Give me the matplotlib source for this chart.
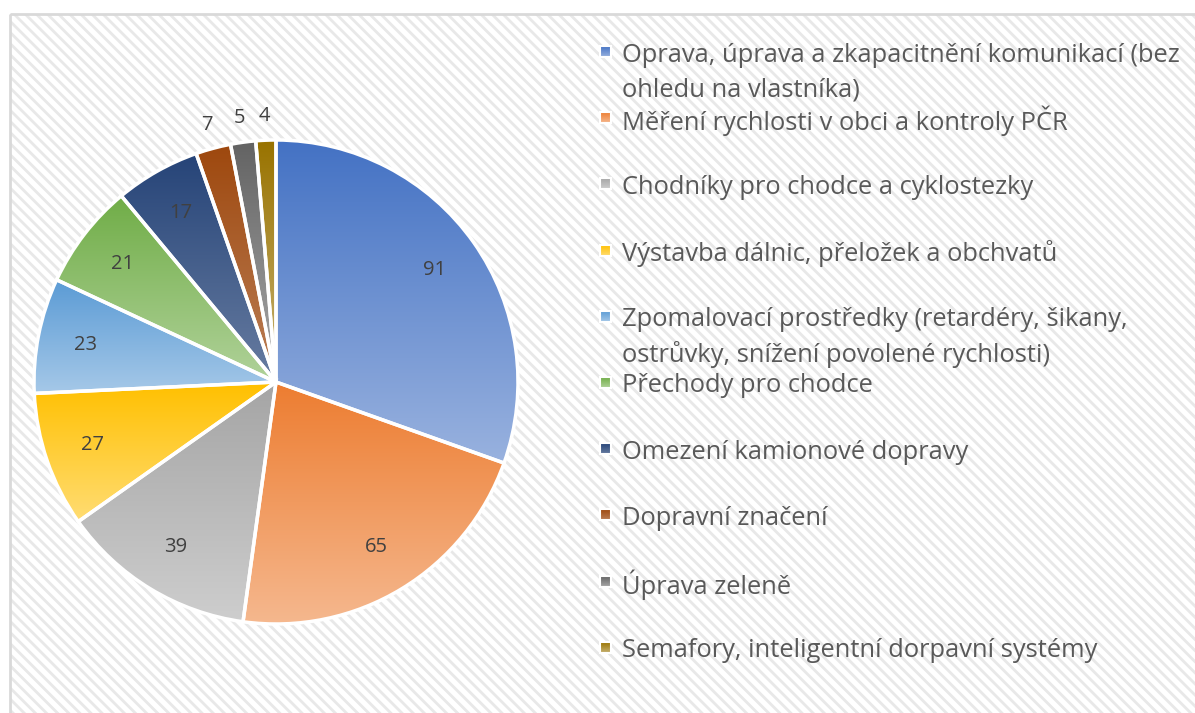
import numpy as np
import matplotlib
matplotlib.use('Agg')
from matplotlib import pyplot as plt
from matplotlib.patches import Rectangle
from matplotlib.colors import to_rgb

plt.rcParams['font.family'] = ['Open Sans', 'DejaVu Sans']
plt.rcParams['hatch.linewidth'] = 2.0

categories = [
    'Oprava, úprava a zkapacitnění komunikací (bez\nohledu na vlastníka)',
    'Měření rychlosti v obci a kontroly PČR',
    'Chodníky pro chodce a cyklostezky',
    'Výstavba dálnic, přeložek a obchvatů',
    'Zpomalovací prostředky (retardéry, šikany,\nostrůvky, snížení povolené rychlosti)',
    'Přechody pro chodce',
    'Omezení kamionové dopravy',
    'Dopravní značení',
    'Úprava zeleně',
    'Semafory, inteligentní dorpavní systémy',
]
values = [91, 65, 39, 27, 23, 21, 17, 7, 5, 4]
colors = ['#4472C4', '#ED7D31', '#A5A5A5', '#FFC000', '#5B9BD5',
          '#70AD47', '#264478', '#9E480E', '#636363', '#997300']

W, H = 1195, 713


def gradient(ax, c, extent, clip, z):
    top = np.array(to_rgb(c))
    mix = 0.45 if top.mean() > 0.35 else 0.3
    bot = top + (1 - top) * mix
    t = np.linspace(0, 1, 64)[:, None]
    img = top[None, :] * (1 - t) + bot[None, :] * t
    im = ax.imshow(img[:, None, :], extent=extent, origin='upper',
                   aspect='auto', zorder=z, interpolation='bilinear')
    im.set_clip_path(clip)
    return im


fig = plt.figure(figsize=(W / 100, H / 100), dpi=100)
fig.patch.set_facecolor('white')

# background / legend layer in pixel coords
bg = fig.add_axes([0, 0, 1, 1])
bg.set_xlim(0, W)
bg.set_ylim(H, 0)
bg.axis('off')
bg.add_patch(Rectangle((10, 14), W, H, facecolor='white', edgecolor='#e8e8e8',
                       hatch='\\\\\\', linewidth=0, zorder=0))
bg.add_patch(Rectangle((10, 14), W, H, facecolor='none', edgecolor='#d9d9d9',
                       linewidth=2, zorder=1))

y0, step, gap = 52, 66.2, 35
for i, (lab, c) in enumerate(zip(categories, colors)):
    y = y0 + i * step
    sq = Rectangle((600, y - 6), 11, 11, facecolor='none', edgecolor='white',
                   linewidth=1.5, zorder=3)
    bg.add_patch(sq)
    gradient(bg, c, (600, 611, y + 5, y - 6), sq, 2)
    for k, line in enumerate(lab.split('\n')):
        bg.text(622, y + k * gap, line, fontsize=18.4, color='#595959',
                va='center_baseline', ha='left', zorder=4)
bg.set_xlim(0, W)
bg.set_ylim(H, 0)

# pie
cx, cy, r = 276, 382, 242
ax = fig.add_axes([(cx - r) / W, (H - cy - r) / H, 2 * r / W, 2 * r / H])
wedges, _ = ax.pie(values, startangle=90, counterclock=False, radius=1,
                   colors=colors, wedgeprops=dict(edgecolor='white', linewidth=2.5))
total = sum(values)
for w, c in zip(wedges, colors):
    bb = w.get_path().get_extents(w.get_transform() - ax.transData)
    w.set_facecolor('none')
    w.set_zorder(3)
    gradient(ax, c, (bb.x0, bb.x1, bb.y0, bb.y1), w, 2)

cum = 0
for v in values:
    mid = np.deg2rad(90 - (cum + v / 2) / total * 360)
    cum += v
    d = 0.8 if v > 10 else 1.1
    ax.text(d * np.cos(mid), d * np.sin(mid), str(v), fontsize=14.5,
            color='#404040', ha='center', va='center', zorder=5)

ax.set_xlim(-1, 1)
ax.set_ylim(-1, 1)
ax.set_aspect('equal')
ax.axis('off')

fig.savefig('out.png', dpi=100)
